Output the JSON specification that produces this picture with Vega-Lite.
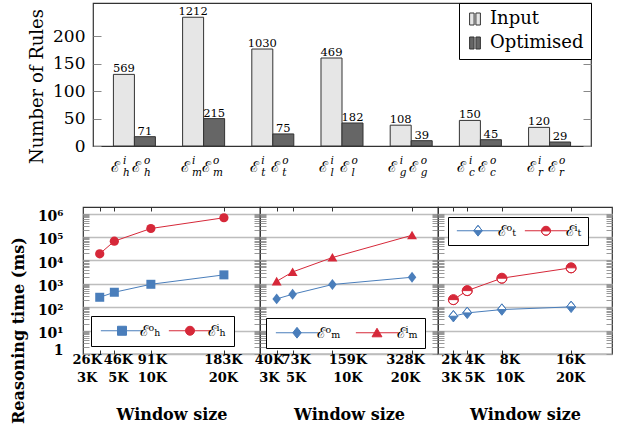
{
 "$schema": "https://vega.github.io/schema/vega-lite/v6.json",
 "background": "white",
 "padding": {"left": 9, "top": 1, "right": 5, "bottom": 3},
 "spacing": 25,
 "config": {"view": {"stroke": "#333", "strokeWidth": 1.2}},
 "resolve": {"scale": {"color": "independent", "shape": "independent", "stroke": "independent"}, "legend": {"color": "independent", "shape": "independent", "stroke": "independent"}},
 "vconcat": [
  {
   "spacing": 0,
   "bounds": "flush",
   "resolve": {"scale": {"color": "independent"}, "legend": {"color": "independent"}},
   "hconcat": [
    {"width": 10, "height": 143, "view": {"stroke": null}, "data": {"values": []}, "mark": {"type": "point", "opacity": 0}},
    {
     "width": 498, "height": 143,
     "data": {"values": [
      {"g":"h","t":"Input","v":130.7,"lab":"569","sup":"i","sub":"h"},
      {"g":"h","t":"Optimised","v":17,"lab":"71","sup":"o","sub":"h"},
      {"g":"m","t":"Input","v":235,"lab":"1212","sup":"i","sub":"m"},
      {"g":"m","t":"Optimised","v":50,"lab":"215","sup":"o","sub":"m"},
      {"g":"t","t":"Input","v":177,"lab":"1030","sup":"i","sub":"t"},
      {"g":"t","t":"Optimised","v":22,"lab":"75","sup":"o","sub":"t"},
      {"g":"l","t":"Input","v":160.6,"lab":"469","sup":"i","sub":"l"},
      {"g":"l","t":"Optimised","v":42,"lab":"182","sup":"o","sub":"l"},
      {"g":"g","t":"Input","v":38,"lab":"108","sup":"i","sub":"g"},
      {"g":"g","t":"Optimised","v":9.7,"lab":"39","sup":"o","sub":"g"},
      {"g":"c","t":"Input","v":46.7,"lab":"150","sup":"i","sub":"c"},
      {"g":"c","t":"Optimised","v":11.5,"lab":"45","sup":"o","sub":"c"},
      {"g":"r","t":"Input","v":34,"lab":"120","sup":"i","sub":"r"},
      {"g":"r","t":"Optimised","v":7.3,"lab":"29","sup":"o","sub":"r"}
     ]},
     "encoding": {
      "x": {"field": "g", "type": "nominal", "sort": null, "axis": null, "scale": {"paddingInner": 0.393, "paddingOuter": 0.295}},
      "xOffset": {"field": "t", "type": "nominal", "sort": ["Input", "Optimised"]}
     },
     "layer": [
      {"mark": {"type": "bar", "stroke": "#333", "strokeWidth": 1},
       "encoding": {
        "y": {"field": "v", "type": "quantitative", "scale": {"domain": [0, 261], "nice": false},
          "axis": {"orient": "left", "values": [0, 50, 100, 150, 200], "labelFont": "DejaVu Serif", "labelFontSize": 17, "labelColor": "black", "labelPadding": 16, "tickSize": -8, "tickColor": "#888", "domain": false, "grid": false, "title": "Number of Rules", "titleFont": "DejaVu Serif", "titleFontSize": 18, "titleFontWeight": "normal", "titleColor": "black", "titlePadding": 6, "titleY": 83}},
        "color": {"field": "t", "type": "nominal", "scale": {"domain": ["Input", "Optimised"], "range": ["#e6e6e6", "#666666"]},
          "legend": {"orient": "top-right", "offset": 0, "title": null, "labelFont": "DejaVu Serif", "labelFontSize": 18, "labelColor": "black", "strokeColor": "black", "fillColor": "white", "padding": 7, "rowPadding": 6, "symbolType": "M-0.9,-1H-0.15V1H-0.9ZM0.15,-1H0.9V1H0.15Z", "symbolSize": 144, "symbolStrokeColor": "#333", "symbolStrokeWidth": 1, "labelOffset": 6}}
       }},
      {"mark": {"type": "text", "baseline": "bottom", "dy": 0, "font": "DejaVu Serif", "fontSize": 11.5, "color": "black"},
       "encoding": {
        "y": {"field": "v", "type": "quantitative", "scale": {"domain": [0, 261], "nice": false}, "axis": {"orient": "right", "values": [0, 50, 100, 150, 200], "labels": false, "tickSize": -8, "tickColor": "#888", "domain": false, "grid": false, "title": null, "minExtent": 0}},
        "text": {"field": "lab"}
       }},
      {"mark": {"type": "text", "text": "ℰ", "align": "center", "baseline": "alphabetic", "dx": -8, "dy": 26, "font": "DejaVu Serif", "fontSize": 15, "color": "black"},
       "encoding": {"y": {"datum": 0, "type": "quantitative", "axis": null}}},
      {"mark": {"type": "text", "align": "left", "baseline": "alphabetic", "dx": -1, "dy": 18, "font": "DejaVu Serif", "fontStyle": "italic", "fontSize": 10.5, "color": "black"},
       "encoding": {"y": {"datum": 0, "type": "quantitative", "axis": null}, "text": {"field": "sup"}}},
      {"mark": {"type": "text", "align": "left", "baseline": "alphabetic", "dx": -1, "dy": 30, "font": "DejaVu Serif", "fontStyle": "italic", "fontSize": 10.5, "color": "black"},
       "encoding": {"y": {"datum": 0, "type": "quantitative", "axis": null}, "text": {"field": "sub"}}}
     ],
     "resolve": {"axis": {"y": "independent"}}
    }
   ]
  },
  {
   "spacing": 0,
   "bounds": "flush",
   "resolve": {"scale": {"color": "independent", "shape": "independent", "stroke": "independent"}, "legend": {"color": "independent", "shape": "independent", "stroke": "independent"}},
   "hconcat": [
    {
     "width": 177, "height": 147,
     "data": {"values": [
      {"w":3,"v":265,"s":"ℰᵒₕ"},{"w":5,"v":434,"s":"ℰᵒₕ"},{"w":10,"v":950,"s":"ℰᵒₕ"},{"w":20,"v":2400,"s":"ℰᵒₕ"},
      {"w":3,"v":19000,"s":"ℰⁱₕ"},{"w":5,"v":66000,"s":"ℰⁱₕ"},{"w":10,"v":229000,"s":"ℰⁱₕ"},{"w":20,"v":660000,"s":"ℰⁱₕ"}
     ]},
     "layer": [
      {"transform": [{"filter": "datum.s == 'ℰᵒₕ'"}],
       "mark": {"type": "line", "strokeWidth": 1, "color": "#4a7ebb"},
       "encoding": {
        "x": {"field": "w", "type": "quantitative", "scale": {"domain": [0.71, 24.94], "nice": false, "zero": false},
          "axis": {"orient": "bottom", "values": [3, 5, 10, 20], "labelExpr": "datum.value == 3 ? ['26K','3K'] : datum.value == 5 ? ['46K','5K'] : datum.value == 10 ? ['91K','10K'] : ['183K','20K']", "labelFont": "DejaVu Serif", "labelFontWeight": "bold", "labelFontSize": 13, "labelLineHeight": 18, "labelColor": "black", "labelPadding": 3, "labelOffset": {"condition": [{"test": "datum.value == 3", "value": -13}, {"test": "datum.value == 5", "value": 3.5}, {"test": "datum.value == 10", "value": 1}, {"test": "datum.value == 20", "value": -1}], "value": 0}, "labelFlush": false, "labelOverlap": false, "labelBound": false, "tickSize": -4, "tickColor": "#333", "domain": false, "grid": false, "title": "Window size", "titleFont": "DejaVu Serif", "titleFontWeight": "bold", "titleFontSize": 16, "titleColor": "black", "titlePadding": 22}},
        "y": {"field": "v", "type": "quantitative", "scale": {"type": "log", "domain": [1, 1900000], "nice": false},
          "axis": {"orient": "left", "values": [1,2,3,4,5,6,7,8,9,10,20,30,40,50,60,70,80,90,100,200,300,400,500,600,700,800,900,1000,2000,3000,4000,5000,6000,7000,8000,9000,10000,20000,30000,40000,50000,60000,70000,80000,90000,100000,200000,300000,400000,500000,600000,700000,800000,900000,1000000],
            "labelExpr": "datum.value == 1 ? '1' : (abs(log(datum.value)/LN10 - round(log(datum.value)/LN10)) < 0.0001 ? '10' + ['⁰','¹','²','³','⁴','⁵','⁶'][round(log(datum.value)/LN10)] : '')",
            "labelFont": "DejaVu Serif", "labelFontWeight": "bold", "labelFontSize": 14, "labelColor": "black", "labelPadding": 26, "labelOffset": 3, "labelBaseline": {"condition": {"test": "datum.value == 1", "value": "bottom"}, "value": "middle"}, "labelOverlap": false, "labelBound": false, "labelFlush": false,
            "tickSize": -6, "tickColor": "#999", "tickWidth": 1, "domain": false, "grid": true, "gridColor": "#bdbdbd", "gridWidth": 1.5,
            "gridOpacity": {"condition": {"test": "abs(log(datum.value)/LN10 - round(log(datum.value)/LN10)) < 0.0001", "value": 1}, "value": 0},
            "title": "Reasoning time (ms)", "titleFont": "DejaVu Serif", "titleFontWeight": "bold", "titleFontSize": 16, "titleColor": "black", "titlePadding": 11, "titleY": 123}}
       }},
      {"transform": [{"filter": "datum.s == 'ℰⁱₕ'"}],
       "mark": {"type": "line", "strokeWidth": 1, "color": "#d62839"},
       "encoding": {
        "x": {"field": "w", "type": "quantitative", "scale": {"domain": [0.71, 24.94], "nice": false, "zero": false}, "axis": null},
        "y": {"field": "v", "type": "quantitative", "scale": {"type": "log", "domain": [1, 1900000], "nice": false}, "axis": null}
       }},
      {"transform": [{"filter": "datum.s == 'ℰᵒₕ'"}],
       "mark": {"type": "point", "filled": true, "size": 81, "opacity": 1, "shape": "square", "fill": "#4a7ebb", "stroke": null},
       "encoding": {
        "x": {"field": "w", "type": "quantitative", "scale": {"domain": [0.71, 24.94], "nice": false, "zero": false}, "axis": {"orient": "top", "values": [3, 5, 10, 20], "labels": false, "tickSize": -4, "tickColor": "#333", "domain": false, "grid": false, "title": null, "minExtent": 0}},
        "y": {"field": "v", "type": "quantitative", "scale": {"type": "log", "domain": [1, 1900000], "nice": false}, "axis": {"orient": "right", "values": [1,2,3,4,5,6,7,8,9,10,20,30,40,50,60,70,80,90,100,200,300,400,500,600,700,800,900,1000,2000,3000,4000,5000,6000,7000,8000,9000,10000,20000,30000,40000,50000,60000,70000,80000,90000,100000,200000,300000,400000,500000,600000,700000,800000,900000,1000000], "labels": false, "tickSize": -6, "tickColor": "#999", "tickWidth": 1, "domain": false, "grid": false, "title": null, "minExtent": 0}}
       }},
      {"transform": [{"filter": "datum.s == 'ℰⁱₕ'"}],
       "mark": {"type": "point", "filled": true, "size": 85, "opacity": 1, "shape": "circle", "fill": "#d62839", "stroke": null},
       "encoding": {
        "x": {"field": "w", "type": "quantitative", "scale": {"domain": [0.71, 24.94], "nice": false, "zero": false}, "axis": null},
        "y": {"field": "v", "type": "quantitative", "scale": {"type": "log", "domain": [1, 1900000], "nice": false}, "axis": null}
       }},
      {"transform": [{"filter": "false"}],
       "mark": {"type": "point", "filled": true, "opacity": 1},
       "encoding": {
        "x": {"field": "w", "type": "quantitative", "scale": {"domain": [0.71, 24.94], "nice": false, "zero": false}, "axis": null},
        "y": {"field": "v", "type": "quantitative", "scale": {"type": "log", "domain": [1, 1900000], "nice": false}, "axis": null},
        "color": {"field": "s", "type": "nominal", "scale": {"domain": ["ℰᵒₕ", "ℰⁱₕ"], "range": ["#4a7ebb", "#d62839"]},
          "legend": {"orient": "bottom-left", "offset": 8, "direction": "horizontal", "title": null, "strokeColor": "black", "fillColor": "white", "padding": 7, "labelFont": "DejaVu Serif", "labelFontSize": 15, "labelColor": "black", "symbolSize": 81, "symbolOffset": 16.5, "labelOffset": 10, "columnPadding": 5, "symbolOpacity": 1, "symbolStrokeWidth": 1}},
        "stroke": {"field": "s", "type": "nominal", "scale": {"domain": ["ℰᵒₕ", "ℰⁱₕ"], "range": ["#4a7ebb", "#d62839"]},
          "legend": {"orient": "bottom-left", "offset": 8, "direction": "horizontal", "title": null, "strokeColor": "black", "fillColor": "white", "padding": 7, "labelFont": "DejaVu Serif", "labelFontSize": 15, "labelColor": "black", "symbolSize": 81, "symbolOffset": 16.5, "labelOffset": 10, "columnPadding": 5, "symbolOpacity": 1, "symbolStrokeWidth": 1}},
        "shape": {"field": "s", "type": "nominal", "scale": {"domain": ["ℰᵒₕ", "ℰⁱₕ"], "range": ["M-4.7,0H4.7M-1,-1H1V1H-1Z", "M-4.7,0H4.7M-1,0A1,1 0 1,1 1,0A1,1 0 1,1 -1,0Z"]},
          "legend": {"orient": "bottom-left", "offset": 8, "direction": "horizontal", "title": null, "strokeColor": "black", "fillColor": "white", "padding": 7, "labelFont": "DejaVu Serif", "labelFontSize": 15, "labelColor": "black", "symbolSize": 81, "symbolOffset": 16.5, "labelOffset": 10, "columnPadding": 5, "symbolOpacity": 1, "symbolStrokeWidth": 1}}
       }}
     ],
     "resolve": {"axis": {"x": "independent", "y": "independent"}}
    },
    {
     "width": 178, "height": 147,
     "data": {"values": [
      {"w":3,"v":226,"s":"ℰᵒₘ"},{"w":5,"v":356,"s":"ℰᵒₘ"},{"w":10,"v":930,"s":"ℰᵒₘ"},{"w":20,"v":1900,"s":"ℰᵒₘ"},
      {"w":3,"v":1270,"s":"ℰⁱₘ"},{"w":5,"v":3200,"s":"ℰⁱₘ"},{"w":10,"v":13200,"s":"ℰⁱₘ"},{"w":20,"v":118000,"s":"ℰⁱₘ"}
     ]},
     "layer": [
      {"transform": [{"filter": "datum.s == 'ℰᵒₘ'"}],
       "mark": {"type": "line", "strokeWidth": 1, "color": "#4a7ebb"},
       "encoding": {
        "x": {"field": "w", "type": "quantitative", "scale": {"domain": [0.906, 23.26], "nice": false, "zero": false},
          "axis": {"orient": "bottom", "values": [3, 5, 10, 20], "labelExpr": "datum.value == 3 ? ['40K','3K'] : datum.value == 5 ? ['73K','5K'] : datum.value == 10 ? ['159K','10K'] : ['328K','20K']", "labelFont": "DejaVu Serif", "labelFontWeight": "bold", "labelFontSize": 13, "labelLineHeight": 18, "labelColor": "black", "labelPadding": 3, "labelOffset": {"condition": [{"test": "datum.value == 3", "value": -7.7}, {"test": "datum.value == 5", "value": 3}, {"test": "datum.value == 10", "value": 15}, {"test": "datum.value == 20", "value": -7}], "value": 0}, "labelFlush": false, "labelOverlap": false, "labelBound": false, "tickSize": -4, "tickColor": "#333", "domain": false, "grid": false, "title": "Window size", "titleFont": "DejaVu Serif", "titleFontWeight": "bold", "titleFontSize": 16, "titleColor": "black", "titlePadding": 22}},
        "y": {"field": "v", "type": "quantitative", "scale": {"type": "log", "domain": [1, 1900000], "nice": false},
          "axis": {"orient": "left", "values": [1,2,3,4,5,6,7,8,9,10,20,30,40,50,60,70,80,90,100,200,300,400,500,600,700,800,900,1000,2000,3000,4000,5000,6000,7000,8000,9000,10000,20000,30000,40000,50000,60000,70000,80000,90000,100000,200000,300000,400000,500000,600000,700000,800000,900000,1000000],
            "labels": false, "tickSize": -6, "tickColor": "#999", "tickWidth": 1, "domain": false, "grid": true, "gridColor": "#bdbdbd", "gridWidth": 1.5,
            "gridOpacity": {"condition": {"test": "abs(log(datum.value)/LN10 - round(log(datum.value)/LN10)) < 0.0001", "value": 1}, "value": 0},
            "title": null, "minExtent": 0}}
       }},
      {"transform": [{"filter": "datum.s == 'ℰⁱₘ'"}],
       "mark": {"type": "line", "strokeWidth": 1, "color": "#d62839"},
       "encoding": {
        "x": {"field": "w", "type": "quantitative", "scale": {"domain": [0.906, 23.26], "nice": false, "zero": false}, "axis": null},
        "y": {"field": "v", "type": "quantitative", "scale": {"type": "log", "domain": [1, 1900000], "nice": false}, "axis": null}
       }},
      {"transform": [{"filter": "datum.s == 'ℰᵒₘ'"}],
       "mark": {"type": "point", "filled": true, "size": 81, "opacity": 1, "shape": "M0,-1.2L0.95,0L0,1.2L-0.95,0Z", "fill": "#4a7ebb", "stroke": null},
       "encoding": {
        "x": {"field": "w", "type": "quantitative", "scale": {"domain": [0.906, 23.26], "nice": false, "zero": false}, "axis": {"orient": "top", "values": [3, 5, 10, 20], "labels": false, "tickSize": -4, "tickColor": "#333", "domain": false, "grid": false, "title": null, "minExtent": 0}},
        "y": {"field": "v", "type": "quantitative", "scale": {"type": "log", "domain": [1, 1900000], "nice": false}, "axis": {"orient": "right", "values": [1,2,3,4,5,6,7,8,9,10,20,30,40,50,60,70,80,90,100,200,300,400,500,600,700,800,900,1000,2000,3000,4000,5000,6000,7000,8000,9000,10000,20000,30000,40000,50000,60000,70000,80000,90000,100000,200000,300000,400000,500000,600000,700000,800000,900000,1000000], "labels": false, "tickSize": -6, "tickColor": "#999", "tickWidth": 1, "domain": false, "grid": false, "title": null, "minExtent": 0}}
       }},
      {"transform": [{"filter": "datum.s == 'ℰⁱₘ'"}],
       "mark": {"type": "point", "filled": true, "size": 81, "opacity": 1, "shape": "M0,-1L1.1,0.9H-1.1Z", "fill": "#d62839", "stroke": null},
       "encoding": {
        "x": {"field": "w", "type": "quantitative", "scale": {"domain": [0.906, 23.26], "nice": false, "zero": false}, "axis": null},
        "y": {"field": "v", "type": "quantitative", "scale": {"type": "log", "domain": [1, 1900000], "nice": false}, "axis": null}
       }},
      {"transform": [{"filter": "false"}],
       "mark": {"type": "point", "filled": true, "opacity": 1},
       "encoding": {
        "x": {"field": "w", "type": "quantitative", "scale": {"domain": [0.906, 23.26], "nice": false, "zero": false}, "axis": null},
        "y": {"field": "v", "type": "quantitative", "scale": {"type": "log", "domain": [1, 1900000], "nice": false}, "axis": null},
        "color": {"field": "s", "type": "nominal", "scale": {"domain": ["ℰᵒₘ", "ℰⁱₘ"], "range": ["#4a7ebb", "#d62839"]},
          "legend": {"orient": "bottom-left", "offset": 6, "direction": "horizontal", "title": null, "strokeColor": "black", "fillColor": "white", "padding": 7, "labelFont": "DejaVu Serif", "labelFontSize": 15, "labelColor": "black", "symbolSize": 81, "symbolOffset": 16.5, "labelOffset": 12, "columnPadding": 12, "symbolOpacity": 1, "symbolStrokeWidth": 1}},
        "stroke": {"field": "s", "type": "nominal", "scale": {"domain": ["ℰᵒₘ", "ℰⁱₘ"], "range": ["#4a7ebb", "#d62839"]},
          "legend": {"orient": "bottom-left", "offset": 6, "direction": "horizontal", "title": null, "strokeColor": "black", "fillColor": "white", "padding": 7, "labelFont": "DejaVu Serif", "labelFontSize": 15, "labelColor": "black", "symbolSize": 81, "symbolOffset": 16.5, "labelOffset": 12, "columnPadding": 12, "symbolOpacity": 1, "symbolStrokeWidth": 1}},
        "shape": {"field": "s", "type": "nominal", "scale": {"domain": ["ℰᵒₘ", "ℰⁱₘ"], "range": ["M-4.7,0H4.7M0,-1.2L0.95,0L0,1.2L-0.95,0Z", "M-4.7,0H4.7M0,-1L1.1,0.9H-1.1Z"]},
          "legend": {"orient": "bottom-left", "offset": 6, "direction": "horizontal", "title": null, "strokeColor": "black", "fillColor": "white", "padding": 7, "labelFont": "DejaVu Serif", "labelFontSize": 15, "labelColor": "black", "symbolSize": 81, "symbolOffset": 16.5, "labelOffset": 12, "columnPadding": 12, "symbolOpacity": 1, "symbolStrokeWidth": 1}}
       }}
     ],
     "resolve": {"axis": {"x": "independent", "y": "independent"}}
    },
    {
     "width": 174, "height": 147,
     "data": {"values": [
      {"w":3,"v":41,"s":"ℰᵒₜ"},{"w":5,"v":57,"s":"ℰᵒₜ"},{"w":10,"v":79,"s":"ℰᵒₜ"},{"w":20,"v":103,"s":"ℰᵒₜ"},
      {"w":3,"v":210,"s":"ℰⁱₜ"},{"w":5,"v":510,"s":"ℰⁱₜ"},{"w":10,"v":1730,"s":"ℰⁱₜ"},{"w":20,"v":4800,"s":"ℰⁱₜ"}
     ]},
     "layer": [
      {"transform": [{"filter": "datum.s == 'ℰᵒₜ'"}],
       "mark": {"type": "line", "strokeWidth": 1, "color": "#4a7ebb"},
       "encoding": {
        "x": {"field": "w", "type": "quantitative", "scale": {"domain": [0.78, 25.9], "nice": false, "zero": false},
          "axis": {"orient": "bottom", "values": [3, 5, 10, 20], "labelExpr": "datum.value == 3 ? ['2K','3K'] : datum.value == 5 ? ['4K','5K'] : datum.value == 10 ? ['8K','10K'] : ['16K','20K']", "labelFont": "DejaVu Serif", "labelFontWeight": "bold", "labelFontSize": 13, "labelLineHeight": 18, "labelColor": "black", "labelPadding": 3, "labelOffset": {"condition": [{"test": "datum.value == 3", "value": -2.5}, {"test": "datum.value == 5", "value": 7}, {"test": "datum.value == 10", "value": 7.5}, {"test": "datum.value == 20", "value": -1}], "value": 0}, "labelFlush": false, "labelOverlap": false, "labelBound": false, "tickSize": -4, "tickColor": "#333", "domain": false, "grid": false, "title": "Window size", "titleFont": "DejaVu Serif", "titleFontWeight": "bold", "titleFontSize": 16, "titleColor": "black", "titlePadding": 22}},
        "y": {"field": "v", "type": "quantitative", "scale": {"type": "log", "domain": [1, 1900000], "nice": false},
          "axis": {"orient": "left", "values": [1,2,3,4,5,6,7,8,9,10,20,30,40,50,60,70,80,90,100,200,300,400,500,600,700,800,900,1000,2000,3000,4000,5000,6000,7000,8000,9000,10000,20000,30000,40000,50000,60000,70000,80000,90000,100000,200000,300000,400000,500000,600000,700000,800000,900000,1000000],
            "labels": false, "tickSize": -6, "tickColor": "#999", "tickWidth": 1, "domain": false, "grid": true, "gridColor": "#bdbdbd", "gridWidth": 1.5,
            "gridOpacity": {"condition": {"test": "abs(log(datum.value)/LN10 - round(log(datum.value)/LN10)) < 0.0001", "value": 1}, "value": 0},
            "title": null, "minExtent": 0}}
       }},
      {"transform": [{"filter": "datum.s == 'ℰⁱₜ'"}],
       "mark": {"type": "line", "strokeWidth": 1, "color": "#d62839"},
       "encoding": {
        "x": {"field": "w", "type": "quantitative", "scale": {"domain": [0.78, 25.9], "nice": false, "zero": false}, "axis": null},
        "y": {"field": "v", "type": "quantitative", "scale": {"type": "log", "domain": [1, 1900000], "nice": false}, "axis": null}
       }},
      {"transform": [{"filter": "datum.s == 'ℰᵒₜ'"}],
       "mark": {"type": "point", "filled": true, "size": 90, "opacity": 1, "shape": "M0,-1.2L0.95,0L0,1.2L-0.95,0Z", "fill": "white", "stroke": null},
       "encoding": {
        "x": {"field": "w", "type": "quantitative", "scale": {"domain": [0.78, 25.9], "nice": false, "zero": false}, "axis": {"orient": "top", "values": [3, 5, 10, 20], "labels": false, "tickSize": -4, "tickColor": "#333", "domain": false, "grid": false, "title": null, "minExtent": 0}},
        "y": {"field": "v", "type": "quantitative", "scale": {"type": "log", "domain": [1, 1900000], "nice": false}, "axis": {"orient": "right", "values": [1,2,3,4,5,6,7,8,9,10,20,30,40,50,60,70,80,90,100,200,300,400,500,600,700,800,900,1000,2000,3000,4000,5000,6000,7000,8000,9000,10000,20000,30000,40000,50000,60000,70000,80000,90000,100000,200000,300000,400000,500000,600000,700000,800000,900000,1000000], "labels": false, "tickSize": -6, "tickColor": "#999", "tickWidth": 1, "domain": false, "grid": false, "title": null, "minExtent": 0}}
       }},
      {"transform": [{"filter": "datum.s == 'ℰⁱₜ'"}],
       "mark": {"type": "point", "filled": true, "size": 100, "opacity": 1, "shape": "circle", "fill": "white", "stroke": null},
       "encoding": {
        "x": {"field": "w", "type": "quantitative", "scale": {"domain": [0.78, 25.9], "nice": false, "zero": false}, "axis": null},
        "y": {"field": "v", "type": "quantitative", "scale": {"type": "log", "domain": [1, 1900000], "nice": false}, "axis": null}
       }},
      {"transform": [{"filter": "datum.s == 'ℰᵒₜ'"}],
       "mark": {"type": "point", "filled": true, "size": 90, "opacity": 1, "shape": "M0,-1.2L0.95,0L0,1.2L-0.95,0ZM0,-1.2L-0.95,0L0.95,0Z", "fill": "#4a7ebb", "stroke": "#4a7ebb", "strokeWidth": 1},
       "encoding": {
        "x": {"field": "w", "type": "quantitative", "scale": {"domain": [0.78, 25.9], "nice": false, "zero": false}, "axis": null},
        "y": {"field": "v", "type": "quantitative", "scale": {"type": "log", "domain": [1, 1900000], "nice": false}, "axis": null}
       }},
      {"transform": [{"filter": "datum.s == 'ℰⁱₜ'"}],
       "mark": {"type": "point", "filled": true, "size": 100, "opacity": 1, "shape": "M-1,0A1,1 0 1,1 1,0A1,1 0 1,1 -1,0ZM-1,0A1,1 0 0,0 1,0Z", "fill": "#d62839", "stroke": "#d62839", "strokeWidth": 1},
       "encoding": {
        "x": {"field": "w", "type": "quantitative", "scale": {"domain": [0.78, 25.9], "nice": false, "zero": false}, "axis": null},
        "y": {"field": "v", "type": "quantitative", "scale": {"type": "log", "domain": [1, 1900000], "nice": false}, "axis": null}
       }},
      {"transform": [{"filter": "false"}],
       "mark": {"type": "point", "filled": true, "opacity": 1},
       "encoding": {
        "x": {"field": "w", "type": "quantitative", "scale": {"domain": [0.78, 25.9], "nice": false, "zero": false}, "axis": null},
        "y": {"field": "v", "type": "quantitative", "scale": {"type": "log", "domain": [1, 1900000], "nice": false}, "axis": null},
        "color": {"field": "s", "type": "nominal", "scale": {"domain": ["ℰᵒₜ", "ℰⁱₜ"], "range": ["#4a7ebb", "#d62839"]},
          "legend": {"orient": "top-left", "offset": 10, "direction": "horizontal", "title": null, "strokeColor": "black", "fillColor": "white", "padding": 6, "labelFont": "DejaVu Serif", "labelFontSize": 15, "labelColor": "black", "symbolSize": 81, "symbolOffset": 16.5, "labelOffset": 12, "columnPadding": 6, "symbolOpacity": 1, "symbolStrokeWidth": 1}},
        "stroke": {"field": "s", "type": "nominal", "scale": {"domain": ["ℰᵒₜ", "ℰⁱₜ"], "range": ["#4a7ebb", "#d62839"]},
          "legend": {"orient": "top-left", "offset": 10, "direction": "horizontal", "title": null, "strokeColor": "black", "fillColor": "white", "padding": 6, "labelFont": "DejaVu Serif", "labelFontSize": 15, "labelColor": "black", "symbolSize": 81, "symbolOffset": 16.5, "labelOffset": 12, "columnPadding": 6, "symbolOpacity": 1, "symbolStrokeWidth": 1}},
        "shape": {"field": "s", "type": "nominal", "scale": {"domain": ["ℰᵒₜ", "ℰⁱₜ"], "range": ["M-4.7,0H4.7M0,-1.2L0.95,0L0,1.2L-0.95,0ZM0,-1.2L-0.95,0L0.95,0Z", "M-4.7,0H4.7M-1,0A1,1 0 1,1 1,0A1,1 0 1,1 -1,0ZM-1,0A1,1 0 0,0 1,0Z"]},
          "legend": {"orient": "top-left", "offset": 10, "direction": "horizontal", "title": null, "strokeColor": "black", "fillColor": "white", "padding": 6, "labelFont": "DejaVu Serif", "labelFontSize": 15, "labelColor": "black", "symbolSize": 81, "symbolOffset": 16.5, "labelOffset": 12, "columnPadding": 6, "symbolOpacity": 1, "symbolStrokeWidth": 1}}
       }}
     ],
     "resolve": {"axis": {"x": "independent", "y": "independent"}}
    }
   ]
  }
 ]
}
